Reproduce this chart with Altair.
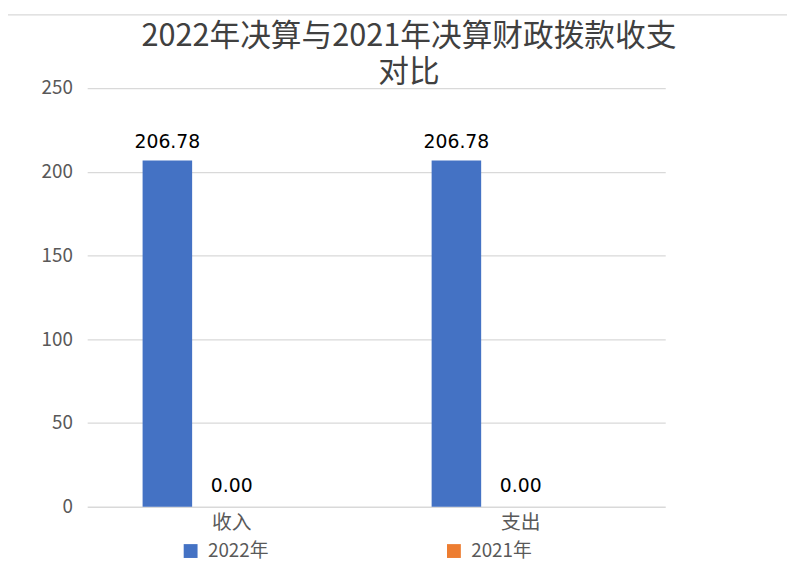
import altair as alt
import pandas as pd

categories = ["收入", "支出"]
series = ["2022年", "2021年"]
values_2022 = [206.78, 206.78]
values_2021 = [0.00, 0.00]
colors = ["#4472C4", "#ED7D31"]
y_ticks = [0, 50, 100, 150, 200, 250]

rows = []
for i, c in enumerate(categories):
    rows.append({"cat": c, "series": series[0], "value": values_2022[i]})
    rows.append({"cat": c, "series": series[1], "value": values_2021[i]})
df = pd.DataFrame(rows)
df["label"] = df["value"].map(lambda v: f"{v:.2f}")

FONT = "Noto Sans CJK SC"

x_enc = alt.X("cat:N", sort=categories, title=None,
              scale=alt.Scale(paddingInner=0, paddingOuter=0),
              axis=alt.Axis(labelAngle=0, domain=False, ticks=False, labelPadding=6,
                            labelFontSize=20, labelColor="#595959", labelFont=FONT,
                            grid=False))
xoff_enc = alt.XOffset("series:N", sort=series,
                       scale=alt.Scale(domain=series, paddingInner=0.615, paddingOuter=0.4306))
y_enc = alt.Y("value:Q", title=None,
              scale=alt.Scale(domain=[0, 250], nice=False),
              axis=alt.Axis(values=y_ticks, domain=False, ticks=False, labelPadding=15,
                            labelFontSize=19, labelColor="#595959", labelFont=FONT,
                            grid=True, gridColor="#d9d9d9", gridWidth=1.3))

base = alt.Chart(df)

bars = base.mark_bar().encode(
    x=x_enc,
    xOffset=xoff_enc,
    y=y_enc,
    color=alt.Color("series:N", sort=series,
                    scale=alt.Scale(domain=series, range=colors),
                    legend=alt.Legend(title=None, orient="none", legendX=95, legendY=458,
                                      direction="horizontal", columns=2, columnPadding=177,
                                      symbolType="square", symbolSize=196, symbolStrokeWidth=0,
                                      labelFontSize=19, labelColor="#595959", labelFont=FONT,
                                      labelOffset=8)),
)

text22 = base.transform_filter(alt.datum.series == series[0]).mark_text(
    font="DejaVu Sans", fontSize=19, color="#000000", baseline="alphabetic", dy=-13
).encode(x=x_enc, xOffset=xoff_enc, y=y_enc, text="label:N")

text21 = base.transform_filter(alt.datum.series == series[1]).mark_text(
    font="DejaVu Sans", fontSize=19, color="#000000", baseline="alphabetic", dy=-15
).encode(x=x_enc, y=y_enc, text="label:N")

border = alt.Chart(pd.DataFrame({"a": [0]})).mark_rect(
    fill=None, stroke="#d9d9d9", strokeWidth=1.2
).encode(x=alt.value(-81), x2=alt.value(800), y=alt.value(-74), y2=alt.value(600))

chart = alt.layer(border, bars, text22, text21).properties(
    width=584, height=423,
    autosize=alt.AutoSizeParams(type="none"),
    padding={"left": 80, "top": 78, "right": 123, "bottom": 57},
    title=alt.TitleParams(text=["2022年决算与2021年决算财政拨款收支", "对比"],
                          fontSize=31, font=FONT, color="#404040", fontWeight="normal",
                          anchor="middle", dx=33, offset=-76, lineHeight=37),
).configure_view(stroke=None)

chart.save("out.html", embed_options={"renderer": "svg", "actions": False})
